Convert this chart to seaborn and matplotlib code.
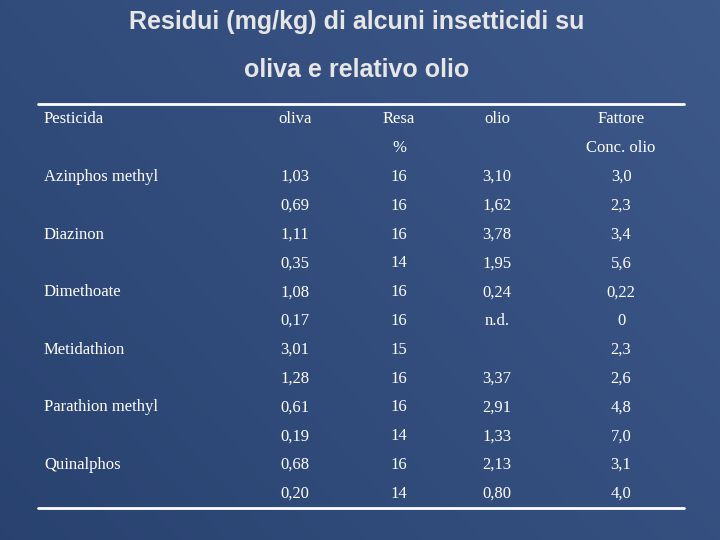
import matplotlib
matplotlib.use("Agg")
import matplotlib.pyplot as plt
import seaborn as sns
import numpy as np

sns.set_style("white")
plt.rcParams['font.family'] = ['Liberation Serif', 'DejaVu Serif']

title1 = "Residui (mg/kg) di alcuni insetticidi su"
title2 = "oliva e relativo olio"
headers1 = ["Pesticida", "oliva", "Resa", "olio", "Fattore"]
headers2 = ["", "", "%", "", "Conc. olio"]
pesticidi = ["Azinphos methyl", "", "Diazinon", "", "Dimethoate", "", "Metidathion", "",
             "Parathion methyl", "", "Quinalphos", ""]
oliva = ["1,03", "0,69", "1,11", "0,35", "1,08", "0,17", "3,01", "1,28", "0,61", "0,19", "0,68", "0,20"]
resa = ["16", "16", "16", "14", "16", "16", "15", "16", "16", "14", "16", "14"]
olio = ["3,10", "1,62", "3,78", "1,95", "0,24", "n.d.", "", "3,37", "2,91", "1,33", "2,13", "0,80"]
fattore = ["3,0", "2,3", "3,4", "5,6", "0,22", "0", "2,3", "2,6", "4,8", "7,0", "3,1", "4,0"]

fig = plt.figure(figsize=(7.2, 5.4), dpi=100)
ax = fig.add_axes([0, 0, 1, 1])
ax.set_xlim(0, 720)
ax.set_ylim(540, 0)
ax.axis('off')
yy, xx = np.mgrid[0:540, 0:720]
t = 0.6 * (xx / 720) + 0.4 * (1 - yy / 540)
c0 = np.array([0.16, 0.26, 0.44]); c1 = np.array([0.24, 0.35, 0.54])
img = c0[None, None, :] * (1 - t[..., None]) + c1[None, None, :] * t[..., None]
ax.imshow(np.clip(img, 0, 1), extent=[0, 720, 540, 0], zorder=0, aspect='auto')

tkw = dict(color='#E6E6E6', fontsize=18, fontweight='bold', family='Liberation Sans', ha='center', va='center')
ax.text(357, 22, title1, **tkw)
ax.text(357, 70, title2, **tkw)

ax.plot([38, 684], [104, 104], color='white', lw=2)
ax.plot([38, 684], [508, 508], color='white', lw=2)

colx = [44, 295, 399, 497, 621]
fk = dict(color='white', fontsize=12, va='center')
for i, (h1, h2) in enumerate(zip(headers1, headers2)):
    ha = 'left' if i == 0 else 'center'
    ax.text(colx[i], 119, h1, ha=ha, **fk)
    ax.text(colx[i], 148, h2, ha=ha, **fk)
for r in range(len(oliva)):
    y = 177 + r * 28.8
    ax.text(colx[0], y, pesticidi[r], ha='left', **fk)
    ax.text(colx[1], y, oliva[r], ha='center', **fk)
    ax.text(colx[2], y, resa[r], ha='center', **fk)
    ax.text(colx[3], y, olio[r], ha='center', **fk)
    ax.text(colx[4], y, fattore[r], ha='center', **fk)

fig.savefig("out.png", dpi=100)
